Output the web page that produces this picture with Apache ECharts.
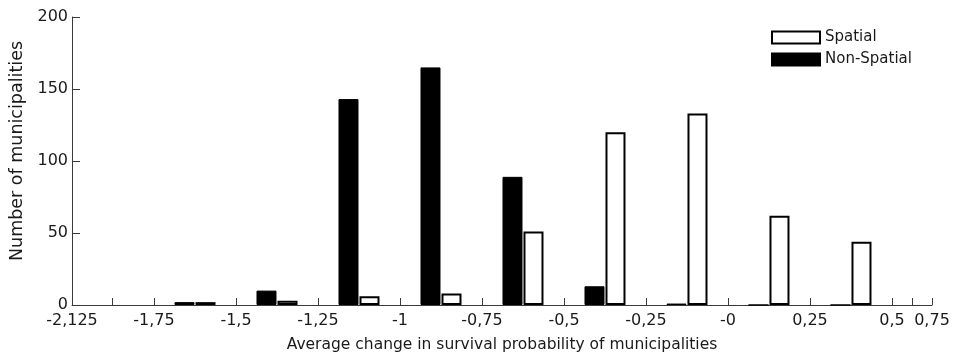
<!DOCTYPE html>
<html>
<head>
<meta charset="utf-8">
<title>Average change in survival probability of municipalities</title>
<script src="https://cdn.jsdelivr.net/npm/echarts@6/dist/echarts.min.js"></script>
<style>
  html, body { margin: 0; padding: 0; background: #fff; }
  #chart { width: 954px; height: 360px; }
</style>
</head>
<body>
<div id="chart"></div>
<script>
// Histogram bins: x runs in bin-index units, one unit per 0.25-wide class.
const tickValues = [0, 0.488, 1, 2, 3, 4, 5, 6, 7, 8, 9, 10, 10.244, 10.488];
const tickLabels = ['-2,125', '', '-1,75', '-1,5', '-1,25', '-1', '-0,75', '-0,5', '-0,25', '-0', '0,25', '0,5', '', '0,75'];
const binCentres = [1.5, 2.5, 3.5, 4.5, 5.5, 6.5, 7.5, 8.5, 9.5];

// Number of municipalities per class
const nonSpatial = [2, 10, 143, 165, 89, 13, 1, 0, 0];
const spatial = [2, 3, 6, 8, 51, 120, 133, 62, 44];

const yTicks = [0, 50, 100, 150, 200];

const FONT = 'DejaVu Sans';
const TEXT = '#1a1a1a';
const AXIS = '#3a3a3a';

const pairs = (vals) => binCentres.map((x, i) => [x, vals[i]]);

const chart = echarts.init(document.getElementById('chart'), null, { renderer: 'canvas' });

chart.setOption({
  animation: false,
  backgroundColor: '#ffffff',
  grid: { left: 72, right: 22, top: 17, bottom: 55, containLabel: false },
  legend: {
    orient: 'vertical',
    left: 766,
    top: 25,
    itemWidth: 48,
    itemHeight: 12,
    itemGap: 7,
    icon: 'rect',
    data: ['Spatial', 'Non-Spatial'],
    textStyle: { fontFamily: FONT, fontSize: 15, color: TEXT }
  },
  xAxis: {
    type: 'value',
    min: tickValues[0],
    max: tickValues[tickValues.length - 1],
    name: 'Average change in survival probability of municipalities',
    nameLocation: 'middle',
    nameGap: 32,
    nameTextStyle: { fontFamily: FONT, fontSize: 15.5, color: TEXT },
    splitLine: { show: false },
    axisLine: { show: true, lineStyle: { color: AXIS, width: 1 } },
    axisTick: {
      show: true, inside: true, length: 7,
      customValues: tickValues,
      lineStyle: { color: AXIS, width: 1 }
    },
    axisLabel: {
      customValues: tickValues,
      margin: 8,
      fontFamily: FONT, fontSize: 16, color: TEXT,
      formatter: (v) => {
        const i = tickValues.findIndex((t) => Math.abs(t - v) < 1e-6);
        return i >= 0 ? tickLabels[i] : '';
      }
    }
  },
  yAxis: {
    type: 'value',
    min: yTicks[0],
    max: yTicks[yTicks.length - 1],
    interval: 50,
    name: 'Number of municipalities',
    nameLocation: 'middle',
    nameGap: 46,
    nameTextStyle: { fontFamily: FONT, fontSize: 17.5, color: TEXT, padding: [0, 0, 0, 20] },
    splitLine: { show: false },
    axisLine: { show: true, lineStyle: { color: AXIS, width: 1 } },
    axisTick: { show: true, inside: true, length: 8, lineStyle: { color: AXIS, width: 1 } },
    axisLabel: { margin: 4, fontFamily: FONT, fontSize: 16, color: TEXT }
  },
  series: [
    {
      name: 'Non-Spatial',
      type: 'bar',
      barWidth: 20,
      barGap: '5%',
      data: pairs(nonSpatial),
      itemStyle: { color: '#000000', borderColor: '#000000', borderWidth: 1 }
    },
    {
      name: 'Spatial',
      type: 'bar',
      barWidth: 20,
      barGap: '5%',
      data: pairs(spatial),
      itemStyle: { color: '#ffffff', borderColor: '#000000', borderWidth: 2 }
    }
  ]
});
</script>
</body>
</html>
